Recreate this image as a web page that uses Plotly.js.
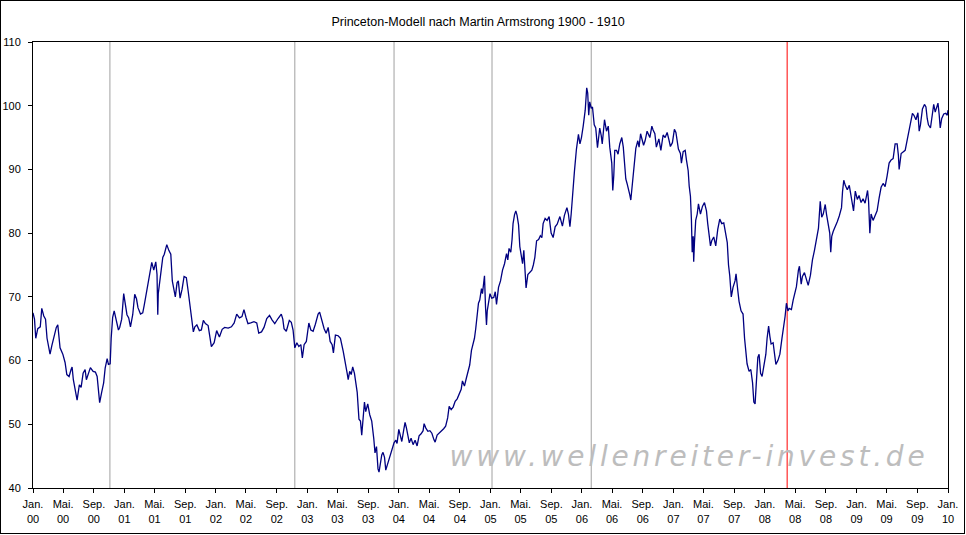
<!DOCTYPE html>
<html>
<head>
<meta charset="utf-8">
<script src="https://cdn.plot.ly/plotly-3.0.1.min.js"></script>
<style>
  html, body { margin: 0; padding: 0; background: #ffffff; }
  #chart { width: 963px; height: 532px; border: 1px solid #000000; }
  #chart .annotation-text { letter-spacing: 3.8px; }
</style>
</head>
<body>
<div id="chart"></div>
<script>
// Princeton model index, daily trading days sampled: offset in days from 1900-01-01 and index value
const startDate = '1900-01-01';
const dayOffsets = [
  0, 6, 11, 19, 29, 35, 43, 50, 56, 64, 68, 75, 84, 93, 99, 103, 108, 119, 128, 135,
  144, 152, 156, 161, 168, 176, 185, 192, 200, 208, 213, 220, 229, 240, 249, 256, 261, 266, 274, 282,
  288, 296, 301, 308, 312, 318, 324, 331, 341, 346, 354, 362, 369, 375, 382, 389, 398, 406, 413, 419,
  429, 438, 444, 454, 463, 474, 482, 490, 495, 498, 500, 508, 518, 524, 534, 542, 550, 556, 564, 568,
  575, 580, 587, 595, 603,
  612, 619, 624, 632, 640, 646, 654, 664, 672, 680, 688, 699, 705, 712, 723, 733, 744, 755, 765, 779,
  792, 803, 813, 824, 834, 842, 850, 858, 869, 882, 893, 901, 912, 922, 933, 944, 954, 965, 978, 991,
  997, 1002, 1011, 1023, 1031, 1038, 1045, 1053, 1061, 1069, 1075, 1082, 1091, 1101, 1109, 1118, 1127, 1138, 1144, 1154,
  1162, 1170, 1178, 1186, 1194, 1199, 1207, 1218, 1227,
  1238, 1246, 1254, 1258, 1264, 1270, 1276, 1283, 1288, 1294, 1301, 1307, 1312, 1317, 1323, 1328, 1336, 1344, 1352, 1360,
  1365, 1371, 1377, 1381, 1387, 1392, 1397, 1403, 1408, 1413, 1421, 1428, 1435, 1441, 1448, 1453, 1460, 1466, 1472, 1480,
  1485, 1490, 1497, 1502, 1509, 1517, 1525, 1533, 1541, 1549, 1557, 1561, 1568, 1576, 1584, 1592, 1600, 1605, 1613, 1624,
  1631, 1639, 1647, 1655, 1661, 1669, 1677, 1685, 1693, 1701, 1709, 1714, 1722, 1730, 1738, 1743, 1750, 1757, 1762, 1767,
  1773, 1778, 1783, 1790, 1794, 1799, 1802, 1806, 1810, 1813, 1818, 1824,
  1831, 1839, 1845, 1850, 1858, 1866, 1874, 1882, 1890, 1895, 1900, 1907, 1912, 1916, 1922, 1927, 1932, 1938, 1943, 1948,
  1954, 1959, 1964, 1968, 1975, 1983, 1991, 1997, 2003, 2010, 2018, 2025, 2031, 2036, 2044, 2052, 2060, 2068, 2076, 2084,
  2092, 2103, 2113, 2121, 2131, 2137, 2143, 2148, 2153, 2161, 2169, 2177, 2183, 2189, 2196, 2204, 2210, 2214, 2218, 2222,
  2228, 2233, 2240, 2246, 2253, 2257, 2262, 2268, 2272, 2281, 2289, 2296, 2302, 2310, 2314, 2318, 2322, 2329, 2335, 2342,
  2350, 2356, 2361, 2366, 2371, 2377, 2382, 2386, 2390, 2395, 2401, 2406, 2414, 2419,
  2425, 2430, 2437, 2443, 2451, 2462, 2470, 2475, 2482, 2488, 2498, 2506, 2515, 2523, 2531, 2539, 2544, 2552, 2560, 2566,
  2571, 2576, 2584, 2588, 2595, 2603, 2608, 2615, 2619, 2624, 2628, 2631, 2635, 2637, 2640, 2645, 2651, 2656, 2664, 2672,
  2680, 2688, 2693, 2699, 2704, 2709, 2717, 2725, 2733, 2741, 2749, 2757, 2765, 2771, 2776, 2781, 2787, 2794, 2802, 2806,
  2813, 2818, 2826, 2834, 2840, 2845, 2850, 2858, 2865, 2872, 2877, 2882, 2888, 2893, 2898, 2904, 2910, 2917, 2925, 2930,
  2936, 2941, 2946, 2954, 2959, 2965, 2973, 2981, 2989, 2997, 3002, 3007, 3013, 3018,
  3027, 3034, 3039, 3047, 3055, 3059, 3066, 3071, 3079, 3087, 3094, 3103, 3111, 3119, 3127, 3135, 3142, 3148, 3154, 3162,
  3167, 3175, 3180, 3184, 3188, 3194, 3202, 3210, 3218, 3227, 3231, 3236, 3242, 3250, 3258, 3263, 3271, 3275, 3282, 3290,
  3297, 3305, 3313, 3321, 3331, 3335, 3340, 3345, 3353, 3361, 3369, 3377, 3385, 3393, 3401, 3409, 3417, 3425, 3433, 3441,
  3449, 3454, 3457, 3465, 3473, 3481, 3489, 3497, 3502, 3510, 3516, 3524, 3532, 3537, 3542, 3550, 3558, 3564, 3569, 3574,
  3582, 3590, 3595, 3601, 3606, 3612, 3617, 3621, 3627, 3635, 3643, 3649, 3652
];
const indexValues = [
  67.5, 66.5, 63.5, 65.0, 65.3, 68.2, 67.0, 66.5, 63.5, 61.8, 61.0, 62.3, 64.0, 65.2, 65.6, 64.3, 62.0, 61.0, 59.7, 57.8,
  57.5, 58.6, 59.0, 57.0, 55.5, 53.8, 56.2, 55.8, 58.0, 58.6, 57.0, 57.8, 58.9, 58.3, 58.2, 57.5, 55.5, 53.4, 55.0, 56.5,
  58.8, 60.3, 59.4, 59.5, 63.5, 66.8, 67.8, 66.5, 64.8, 65.2, 66.5, 70.5, 68.4, 67.2, 66.7, 65.3, 67.2, 70.4, 69.7, 68.3,
  67.3, 67.5, 68.7, 70.9, 72.4, 75.4, 74.2, 75.5, 73.5, 67.2, 70.5, 72.9, 76.2, 76.7, 78.2, 77.3, 76.7, 72.5, 71.0, 70.0,
  72.2, 72.5, 69.8, 71.2, 73.2,
  73.0, 71.0, 69.5, 67.2, 64.5, 65.3, 65.6, 64.7, 64.8, 66.3, 65.8, 65.5, 63.8, 62.2, 62.8, 64.7, 63.7, 64.9, 65.2, 65.1,
  65.3, 65.9, 67.3, 66.7, 66.9, 68.0, 66.8, 65.8, 65.9, 66.1, 65.9, 64.3, 64.5, 65.2, 66.6, 67.1, 66.4, 65.8, 66.6, 67.3,
  66.5, 65.0, 64.6, 66.3, 66.0, 64.8, 62.0, 62.8, 62.2, 62.5, 60.4, 62.5, 63.0, 65.9, 64.8, 64.6, 65.7, 67.3, 67.6, 66.0,
  65.0, 64.3, 65.2, 63.0, 62.5, 61.2, 64.0, 63.9, 63.5,
  61.5, 60.0, 58.0, 57.0, 58.3, 57.8, 59.0, 58.0, 56.5, 55.0, 50.8, 50.5, 48.3, 50.5, 53.5, 52.0, 53.2, 51.5, 50.5, 47.8,
  45.5, 46.5, 43.0, 42.5, 44.4, 45.2, 45.6, 44.8, 42.8, 43.5, 44.5, 45.5, 46.5, 47.1, 47.5, 47.0, 49.2, 48.0, 47.3, 49.2,
  50.3, 49.5, 48.2, 47.1, 47.8, 46.8, 47.5, 46.6, 48.2, 48.5, 49.0, 50.1, 49.4, 48.9, 49.0, 48.6, 47.6, 47.2, 48.3, 48.7,
  49.0, 49.3, 49.7, 51.0, 52.8, 52.3, 52.7, 53.6, 54.0, 54.8, 55.5, 56.8, 56.0, 57.3, 58.8, 59.3, 61.6, 62.8, 63.5, 65.0,
  67.0, 69.0, 69.5, 71.3, 70.5, 72.5, 73.3, 68.5, 65.6, 67.8, 69.0, 70.5,
  69.8, 69.9, 70.8, 68.8, 71.5, 72.5, 74.2, 75.2, 76.8, 75.8, 77.6, 77.0, 79.0, 81.5, 82.9, 83.5, 82.8, 81.3, 77.9, 76.5,
  75.2, 77.3, 73.5, 71.4, 73.5, 73.8, 74.2, 75.0, 76.2, 78.8, 79.0, 79.6, 79.3, 81.5, 82.3, 82.0, 82.6, 80.0, 79.3, 81.0,
  81.4, 82.6, 81.1, 82.8, 84.0, 83.0, 81.0, 83.0, 86.0, 89.7, 93.2, 95.5, 94.0, 95.0, 96.8, 99.3, 102.8, 102.0, 98.5, 100.6,
  99.6, 99.8, 97.0, 96.5, 93.4, 95.0, 96.5, 95.3, 94.0, 97.8, 96.0, 96.8, 93.5, 91.0, 86.7, 89.0, 93.0, 93.0, 92.4, 94.0,
  95.0, 93.5, 91.0, 88.5, 87.8, 87.0, 86.0, 85.2, 86.8, 89.2, 91.5, 93.3, 94.5, 93.5,
  95.6, 95.0, 93.8, 94.5, 96.0, 95.0, 96.8, 96.2, 95.6, 93.5, 94.8, 93.0, 95.4, 95.0, 95.8, 94.5, 93.6, 94.2, 96.3, 95.8,
  94.6, 93.2, 92.5, 91.0, 92.8, 93.0, 91.5, 89.8, 87.4, 85.8, 82.0, 77.0, 79.5, 75.5, 78.5, 82.0, 83.0, 84.6, 83.0, 84.2,
  84.8, 83.5, 81.5, 79.5, 78.0, 78.8, 79.4, 78.0, 80.6, 82.2, 81.5, 81.6, 80.0, 78.5, 75.0, 73.3, 70.0, 71.5, 72.5, 73.6,
  71.0, 69.3, 67.8, 67.3, 63.5, 61.5, 59.5, 58.3, 58.6, 56.5, 53.5, 53.2, 56.8, 60.5, 61.0, 58.0, 57.5, 59.0, 61.0, 63.5,
  65.4, 63.8, 62.6, 62.8, 61.0, 59.4, 60.0, 61.0, 63.4, 65.5, 67.0, 69.0, 67.8, 68.2,
  68.0, 69.5, 70.3, 71.6, 74.2, 74.8, 72.0, 73.2, 73.8, 72.8, 71.8, 73.4, 75.8, 77.3, 79.2, 80.8, 85.0, 82.5, 83.0, 84.5,
  83.0, 81.5, 80.0, 77.0, 79.5, 80.3, 81.0, 81.8, 82.7, 84.0, 86.5, 88.3, 87.5, 86.8, 87.5, 86.3, 84.0, 83.5, 86.6, 85.3,
  85.9, 84.8, 85.4, 84.7, 86.7, 85.0, 80.0, 83.0, 82.0, 82.8, 83.5, 85.5, 87.2, 87.8, 87.3, 89.0, 91.0, 91.5, 91.7, 94.0,
  94.0, 92.2, 90.0, 92.5, 92.8, 93.0, 94.6, 96.2, 97.8, 98.8, 98.5, 97.8, 98.9, 96.0, 97.0, 99.5, 100.2, 99.8, 98.0, 97.0,
  96.5, 99.3, 100.2, 99.0, 99.5, 100.4, 98.5, 96.5, 98.0, 98.7, 98.8, 98.5, 99.3
];

// Cycle turning points (vertical markers)
const turnDates = ['1900-11-04', '1902-11-12', '1903-12-13', '1905-01-07', '1906-02-07', '1908-03-30'];
const turnColors = ['#a0a0a0', '#a0a0a0', '#a0a0a0', '#a0a0a0', '#a0a0a0', '#ff0000'];

// Axis ticks: every four months
const tickYears = [1900, 1901, 1902, 1903, 1904, 1905, 1906, 1907, 1908, 1909];
const tickMonths = ['01', '05', '09'];
const monthNames = ['Jan.', 'Mai.', 'Sep.'];

const chartTitle = 'Princeton-Modell nach Martin Armstrong 1900 - 1910';
const watermark = 'www.wellenreiter-invest.de';

function offsetToDate(d) {
  const base = new Date(startDate + 'T00:00:00Z').getTime();
  return new Date(base + d * 86400000).toISOString().slice(0, 10);
}
const xDates = dayOffsets.map(offsetToDate);

const tickVals = [];
const tickText = [];
tickYears.forEach(y => {
  tickMonths.forEach((m, i) => {
    tickVals.push(y + '-' + m + '-01');
    tickText.push(monthNames[i] + '<br>' + String(y).slice(2));
  });
});
tickVals.push('1910-01-01');
tickText.push('Jan.<br>10');

const font = 'Liberation Sans, Arial, sans-serif';

const trace = {
  type: 'scatter',
  mode: 'lines',
  x: xDates,
  y: indexValues,
  line: { color: '#000080', width: 1.3 },
  hoverinfo: 'skip'
};

const shapes = turnDates.map((d, i) => ({
  type: 'line', xref: 'x', yref: 'paper',
  x0: d, x1: d, y0: 0, y1: 1,
  line: { color: turnColors[i], width: 1 },
  layer: 'below'
}));

const layout = {
  width: 963,
  height: 532,
  margin: { l: 32, r: 16, t: 41, b: 45 },
  paper_bgcolor: '#ffffff',
  plot_bgcolor: '#ffffff',
  showlegend: false,
  font: { family: font, size: 11, color: '#000000' },
  title: {
    text: chartTitle,
    font: { family: font, size: 12.5, color: '#000000' },
    xref: 'container', x: 477 / 963, xanchor: 'center',
    yref: 'container', y: 1 - 21 / 532, yanchor: 'middle'
  },
  xaxis: {
    type: 'date',
    range: ['1900-01-01', '1910-01-01'],
    tickmode: 'array',
    tickvals: tickVals,
    ticktext: tickText,
    ticks: 'outside', ticklen: 4, tickwidth: 1, tickcolor: '#000000',
    ticklabelstandoff: 2,
    showgrid: false, zeroline: false,
    showline: true, linecolor: '#000000', linewidth: 1, mirror: true,
    tickfont: { family: font, size: 11, color: '#000000' },
    fixedrange: true
  },
  yaxis: {
    range: [40, 110],
    tickmode: 'linear', tick0: 40, dtick: 10,
    ticks: 'outside', ticklen: 4, tickwidth: 1, tickcolor: '#000000',
    ticklabelstandoff: 5,
    showgrid: false, zeroline: false,
    showline: true, linecolor: '#000000', linewidth: 1, mirror: true,
    tickfont: { family: font, size: 11, color: '#000000' },
    fixedrange: true
  },
  shapes: shapes,
  annotations: [{
    text: watermark,
    xref: 'paper', yref: 'paper',
    x: 0.5068, xanchor: 'left',
    y: 0.0706, yanchor: 'middle',
    showarrow: false,
    font: { family: 'DejaVu Sans, Verdana, sans-serif', size: 28, style: 'italic', color: '#bdbdbd' }
  }]
};

Plotly.newPlot('chart', [trace], layout, { staticPlot: true, displayModeBar: false });
</script>
</body>
</html>
